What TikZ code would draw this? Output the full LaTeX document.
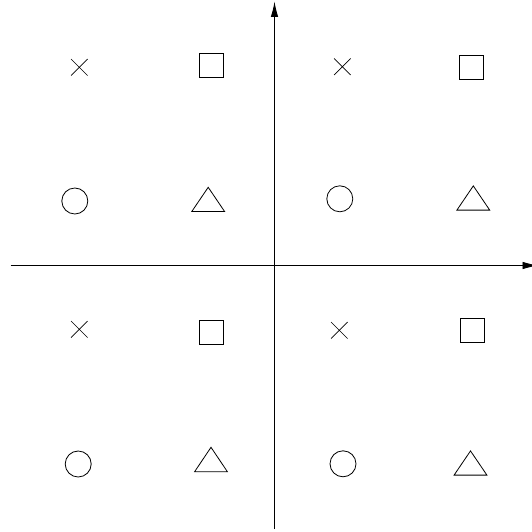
\documentclass[tikz,border=0pt]{standalone}
\usetikzlibrary{arrows.meta,shapes.misc}
\begin{document}
\begin{tikzpicture}[x=1pt,y=-1pt,line width=0.8pt,
  sym/.style={draw=black,inner sep=0pt,outer sep=0pt},
  crossmark/.style={sym,cross out,minimum size=16.5pt,line width=0.7pt},
  boxmark/.style={sym,rectangle,minimum size=24pt},
  ringmark/.style={sym,circle,minimum size=26pt},
  axis/.style={draw=black,line width=0.9pt,-{Latex[length=15.5pt,width=7.5pt]}}]
\useasboundingbox (0,0) rectangle (531,532);
% axes
\coordinate (xl) at (10.5,265.5);
\coordinate (xr) at (538,265.5);
\coordinate (yb) at (274.5,529);
\coordinate (yt) at (274.5,1.5);
\draw[axis] (xl) -- (xr);
\draw[axis] (yb) -- (yt);
% row 1
\node[crossmark] (c11) at (79.3,67.3) {};
\node[boxmark] (s12) at (211.5,65.3) {};
\node[crossmark] (c13) at (342.3,66.7) {};
\node[boxmark] (s14) at (471.8,67) {};
% row 2
\node[ringmark] (o21) at (74.8,201) {};
\coordinate (t22) at (208.2,199.3);
\draw (208.2,187.3) -- (191.8,211.5) -- (224.6,211.5) -- cycle;
\node[ringmark] (o23) at (339.8,198.8) {};
\coordinate (t24) at (473.3,198);
\draw (473.3,185.9) -- (456.9,210.1) -- (489.7,210.1) -- cycle;
% row 3
\node[crossmark] (c31) at (79.3,329.3) {};
\node[boxmark] (s32) at (211.5,332.5) {};
\node[crossmark] (c33) at (339.3,330.3) {};
\node[boxmark] (s34) at (472,330.3) {};
% row 4
\node[ringmark] (o41) at (78.2,464) {};
\draw (211,447.3) -- (194.6,471.7) -- (227.4,471.7) -- cycle;
\node[ringmark] (o43) at (343,463.8) {};
\draw (470.5,450.9) -- (454.1,475.1) -- (486.9,475.1) -- cycle;
\end{tikzpicture}
\end{document}
